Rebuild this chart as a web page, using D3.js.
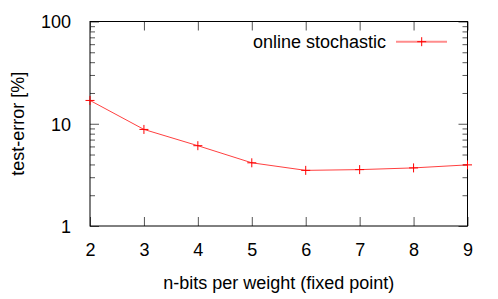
<!DOCTYPE html>
<html>
<head>
<meta charset="utf-8">
<script src="https://cdn.jsdelivr.net/npm/d3@7"></script>
<style>
  body { margin: 0; background: #fff; }
  text { font-family: "Liberation Sans", Arial, sans-serif; }
</style>
</head>
<body>
<div id="chart"></div>
<script>
// Chart dimensions
const width = 498;
const height = 299;
const plotLeft = 90, plotRight = 467.5, plotTop = 21.5, plotBottom = 226;

// Data
const bits = [2, 3, 4, 5, 6, 7, 8, 9];
const testError = [16.9, 8.8, 6.1, 4.15, 3.5, 3.56, 3.7, 3.96];
const xTicks = [2, 3, 4, 5, 6, 7, 8, 9];
const yMajor = [1, 10, 100];
const yMinor = [2, 3, 4, 5, 6, 7, 8, 9, 20, 30, 40, 50, 60, 70, 80, 90];
const seriesName = 'online stochastic';

const xScale = d3.scaleLinear().domain([2, 9]).range([plotLeft, plotRight]);
const yScale = d3.scaleLog().domain([1, 100]).range([plotBottom, plotTop]);

const svg = d3.select('#chart')
    .append('svg')
    .attr('width', width)
    .attr('height', height);

const tickColor = '#555';

// bottom axis with labels, ticks pointing inward
const xAxis = svg.append('g')
    .attr('transform', `translate(0, ${plotBottom})`)
    .call(d3.axisBottom(xScale).tickValues(xTicks).tickSize(-9).tickPadding(17).tickFormat(d3.format('d')));

// top mirror ticks
const xTop = svg.append('g')
    .attr('transform', `translate(0, ${plotTop})`)
    .call(d3.axisTop(xScale).tickValues(xTicks).tickSize(-9).tickFormat(''));

// left axis, major with labels
const yAxis = svg.append('g')
    .attr('transform', `translate(${plotLeft}, 0)`)
    .call(d3.axisLeft(yScale).tickValues(yMajor).tickSize(-9).tickPadding(19).tickFormat(d3.format('d')));

const yMinorL = svg.append('g')
    .attr('transform', `translate(${plotLeft}, 0)`)
    .call(d3.axisLeft(yScale).tickValues(yMinor).tickSize(-5).tickFormat(''));

// right mirror ticks
const yRight = svg.append('g')
    .attr('transform', `translate(${plotRight}, 0)`)
    .call(d3.axisRight(yScale).tickValues(yMajor).tickSize(-9).tickFormat(''));

const yMinorR = svg.append('g')
    .attr('transform', `translate(${plotRight}, 0)`)
    .call(d3.axisRight(yScale).tickValues(yMinor).tickSize(-5).tickFormat(''));

[xAxis, xTop, yAxis, yMinorL, yRight, yMinorR].forEach(g => {
    g.select('.domain').remove();
    g.selectAll('.tick line').attr('stroke', tickColor);
    g.selectAll('.tick text')
        .attr('fill', '#000')
        .style('font-size', '18px');
});
yAxis.selectAll('.tick text').attr('dy', '0.36em');

// frame
svg.append('rect')
    .attr('x', plotLeft)
    .attr('y', plotTop)
    .attr('width', plotRight - plotLeft)
    .attr('height', plotBottom - plotTop)
    .attr('fill', 'none')
    .attr('stroke', '#000')
    .attr('stroke-width', 1);

// series line
const pts = bits.map((b, i) => [b, testError[i]]);
svg.append('path')
    .datum(pts)
    .attr('fill', 'none')
    .attr('stroke', '#ff0000')
    .attr('stroke-opacity', 0.75)
    .attr('stroke-width', 1)
    .attr('d', d3.line().x(d => xScale(d[0])).y(d => yScale(d[1])));

// "+" markers
const cross = (g, x, y) => {
    g.append('path')
        .attr('d', `M${x - 4.5},${y}H${x + 4.5}M${x},${y - 4.5}V${y + 4.5}`)
        .attr('stroke', '#ff0000')
        .attr('stroke-width', 1)
        .attr('fill', 'none');
};
const marks = svg.append('g');
pts.forEach(d => cross(marks, xScale(d[0]), yScale(d[1])));

// legend
svg.append('text')
    .attr('x', 386)
    .attr('y', 41.7)
    .attr('dy', '0.36em')
    .attr('text-anchor', 'end')
    .style('font-size', '18px')
    .text(seriesName);
svg.append('line')
    .attr('x1', 396).attr('x2', 447)
    .attr('y1', 41.7).attr('y2', 41.7)
    .attr('stroke', '#ff0000')
    .attr('stroke-opacity', 0.45)
    .attr('stroke-width', 2);
cross(svg, 421.7, 41.7);

// axis titles
svg.append('text')
    .attr('x', (plotLeft + plotRight) / 2)
    .attr('y', 289)
    .attr('text-anchor', 'middle')
    .style('font-size', '18px')
    .text('n-bits per weight (fixed point)');

svg.append('text')
    .attr('transform', `translate(24, ${(plotTop + plotBottom) / 2}) rotate(-90)`)
    .attr('text-anchor', 'middle')
    .style('font-size', '18px')
    .text('test-error [%]');
</script>
</body>
</html>
